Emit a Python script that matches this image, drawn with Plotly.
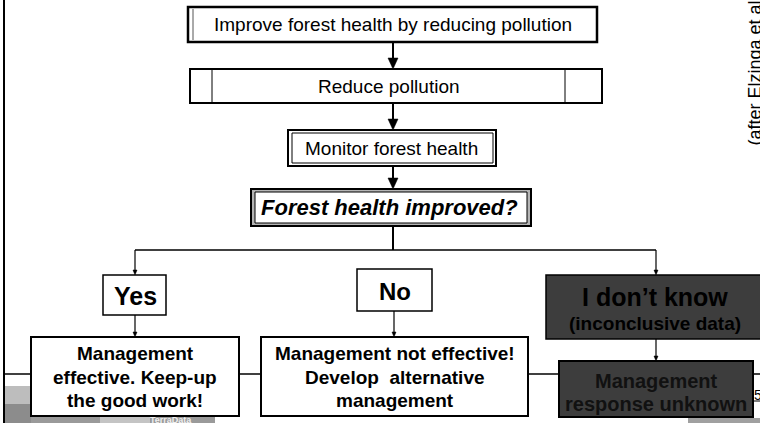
import plotly.graph_objects as go

# text content of the flowchart
steps = ["Improve forest health by reducing pollution", "Reduce pollution", "Monitor forest health"]
question = "Forest health improved?"
answers = ["Yes", "No", "I don\u2019t know"]
answer_note = "(inconclusive data)"
outcomes = [
    ["Management", "effective. Keep-up", "the good work!"],
    ["Management not effective!", "Develop  alternative", "management"],
    ["Management", "response unknown"],
]
source = "(after Elzinga et al. 1998)"
logo = "TerraData"

# geometry (pixels, y down)
step_boxes = [(188, 597, 7, 42), (190, 602, 69, 103), (288, 496, 130, 166)]
step_text_x = [393, 389, 391]
q_box = (251, 531, 189, 226)
ans_boxes = [(103, 166, 275, 315), (357, 432, 269, 311), (546, 780, 275, 339)]
out_boxes = [(31, 239, 337, 416), (261, 528, 337, 416), (559, 753, 361, 417)]
branch_x = [135, 394, 656]
DARK = "#3d3d3d"
FONT = "Liberation Sans, Arial, sans-serif"

fig = go.Figure()
shapes = []
ann = []


def rect(x0, x1, y0, y1, fill="white", lw=2, color="black"):
    shapes.append(dict(type="rect", xref="x", yref="y", x0=x0, x1=x1, y0=y0, y1=y1,
                       fillcolor=fill, line=dict(color=color, width=lw)))


def line(x0, y0, x1, y1, lw=1.5, color="black"):
    shapes.append(dict(type="line", xref="x", yref="y", x0=x0, y0=y0, x1=x1, y1=y1,
                       line=dict(color=color, width=lw)))


def arrow(x, y0, y1, w=10, h=11, lw=2):
    line(x, y0, x, y1 - h + 1, lw=lw)
    shapes.append(dict(type="path", xref="x", yref="y",
                       path=f"M {x - w / 2},{y1 - h} L {x + w / 2},{y1 - h} L {x},{y1} Z",
                       fillcolor="black", line=dict(color="black", width=0.5)))


def text(x, y, s, size, color="black", **kw):
    ann.append(dict(x=x, y=y, xref="x", yref="y", text=s, showarrow=False,
                    font=dict(family=FONT, size=size, color=color), **kw))


# left frame line and bottom connector line
line(4, 0, 4, 423, lw=2)
line(4, 374, 760, 374, lw=1.5)

# background photo fragment bottom-left
rect(5, 31, 386, 423, fill="#bdbdbd", lw=0)
rect(5, 31, 404, 423, fill="#8c8c8c", lw=0)
rect(31, 215, 415, 423, fill="#9a9a9a", lw=0)
rect(100, 150, 415, 423, fill="#c4c4c4", lw=0)
# right-bottom fragment
rect(688, 760, 418, 423, fill="#a0a0a0", lw=0)
line(753, 401, 760, 401, lw=1)

# top steps
b = step_boxes[0]
rect(*b, lw=2.5)
line(193, b[2] + 2, 193, b[3] - 2, lw=1, color="#555")
b = step_boxes[1]
rect(*b, lw=2)
line(212, b[2], 212, b[3], lw=1)
line(565, b[2], 565, b[3], lw=1)
b = step_boxes[2]
rect(*b, lw=2)
rect(b[0] + 4, b[1] - 3, b[2] + 3, b[3] - 3, lw=1)
rect(*q_box, fill="#b5b5b5", lw=2)
rect(q_box[0] + 4, q_box[1] - 4, q_box[2] + 3, q_box[3] - 3, lw=1)

for i, s in enumerate(steps):
    b = step_boxes[i]
    text(step_text_x[i], (b[2] + b[3]) / 2, s, 19)
text(389, (q_box[2] + q_box[3]) / 2, f"<b><i>{question}</i></b>", 22)

arrow(393, 42, 69)
arrow(393, 103, 130)
arrow(393, 166, 189)

# branching
line(393, 226, 393, 250, lw=2)
line(branch_x[0], 250, branch_x[2], 250, lw=1.5)
arrow(branch_x[0], 250, 275, w=4, h=5, lw=1.2)
arrow(branch_x[2], 250, 275, w=4, h=5, lw=1.2)

# answers
rect(*ans_boxes[0], lw=1.5)
rect(*ans_boxes[1], lw=1.5)
rect(*ans_boxes[2], fill=DARK, lw=1.5)
text(135, 296, f"<b>{answers[0]}</b>", 25)
text(395, 291, f"<b>{answers[1]}</b>", 24)
text(655, 297, f"<b>{answers[2]}</b>", 25)
text(655, 323, f"<b>{answer_note}</b>", 19)

arrow(branch_x[0], 315, 337, w=4, h=5, lw=1.2)
arrow(branch_x[1], 311, 337, w=4, h=5, lw=1.2)
arrow(branch_x[2], 339, 361, w=4, h=5, lw=1.2)

# outcomes
rect(*out_boxes[0], lw=2)
rect(*out_boxes[1], lw=2)
rect(*out_boxes[2], fill=DARK, lw=2)
for i, rows in enumerate(outcomes):
    b = out_boxes[i]
    cx = (b[0] + b[1]) / 2
    ys = [353, 377, 400] if len(rows) == 3 else [381, 404]
    for y, r in zip(ys, rows):
        text(cx, y, f"<b>{r}</b>", 19 if len(rows) == 3 else 20, color="black" if i < 2 else "#111")

text(171, 420, f"<b>{logo}</b>", 9, color="#f0f0f0")
text(752, 395, "5", 14, xanchor="left")
text(754, 148, source, 18, textangle=-90, yanchor="bottom")

fig.update_layout(
    width=760, height=423,
    margin=dict(l=0, r=0, t=0, b=0),
    paper_bgcolor="white", plot_bgcolor="white",
    xaxis=dict(range=[0, 760], visible=False, fixedrange=True),
    yaxis=dict(range=[423, 0], visible=False, fixedrange=True),
    shapes=shapes, annotations=ann, showlegend=False,
)
fig.write_html("out.html", config={"displayModeBar": False},
               post_script="document.body.style.margin='0';document.body.style.overflow='hidden';")
